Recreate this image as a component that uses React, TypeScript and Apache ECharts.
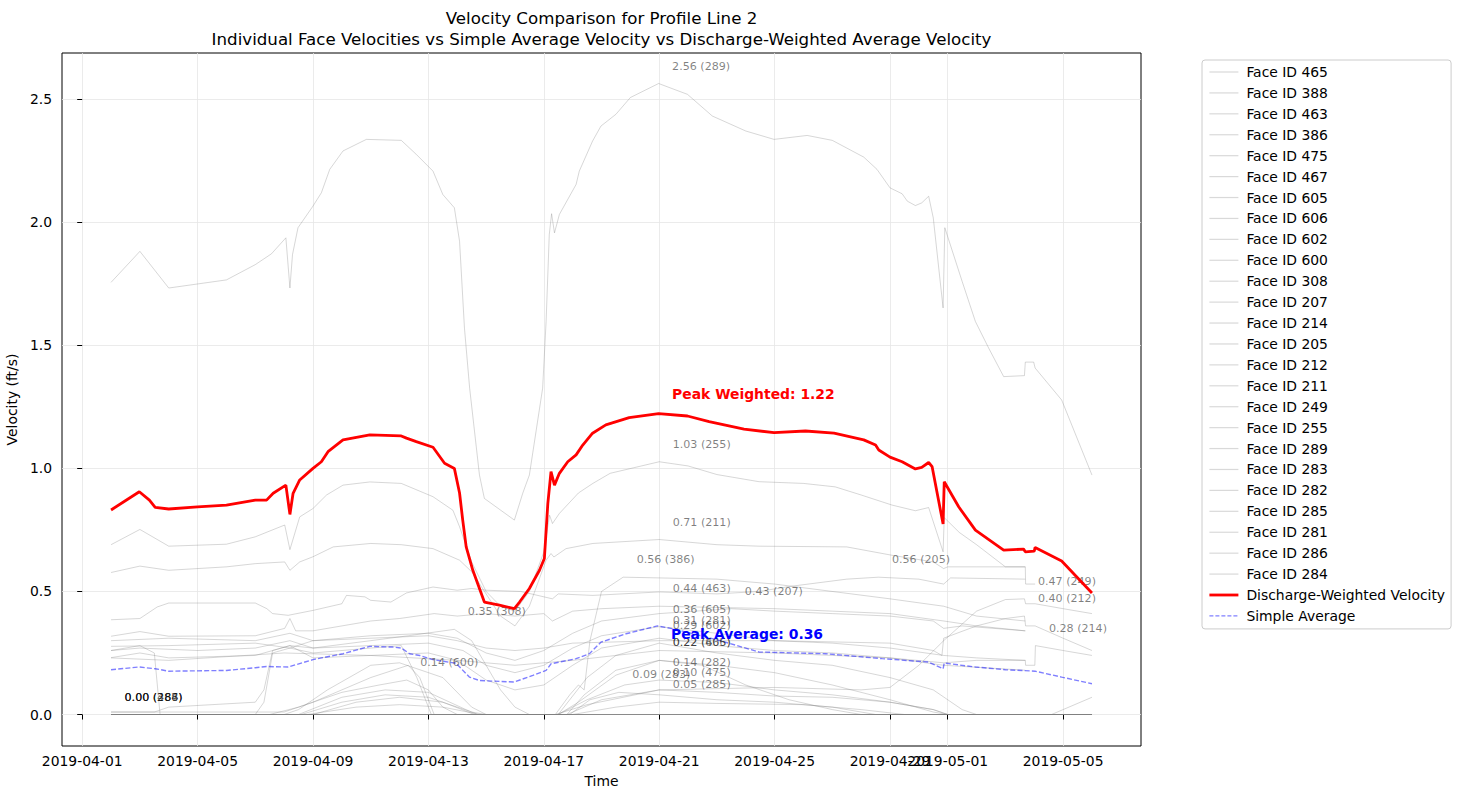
import React, { useEffect, useRef } from 'react';
import * as echarts from 'echarts';

// x values are days since 2019-04-01 00:00
const BASE_DATE = Date.UTC(2019, 3, 1);
const xTickDays = [0, 4, 8, 12, 16, 20, 24, 28, 30, 34];
const yTicks = [0, 0.5, 1.0, 1.5, 2.0, 2.5];

const faceIds = ['465', '388', '463', '386', '475', '467', '605', '606', '602', '600', '308', '207', '214', '205', '212', '211', '249', '255', '289', '283', '282', '285', '281', '286', '284'];

const face465 = [[1, 0.01], [7, 0.01], [8, 0.05], [10, 0.15], [11.3, 0.2], [11.7, 0.15], [12.2, 0], [16.8, 0], [17.4, 0.08], [18.5, 0.18], [20, 0.22], [21.5, 0.2], [23, 0.12], [24.5, 0.06], [26, 0.02], [27, 0], [35, 0]];
const face388 = [[1, 0], [35, 0]];
const face463 = [[1, 0.318], [2, 0.337], [3, 0.318], [6, 0.32], [7.02, 0.35], [7.2, 0.39], [7.4, 0.34], [8, 0.34], [9, 0.36], [10, 0.38], [11, 0.39], [12.2, 0.41], [13, 0.4], [14, 0.41], [15, 0.4], [16, 0.41], [16.3, 0.38], [17, 0.42], [18, 0.43], [20, 0.44], [22, 0.435], [24, 0.43], [26, 0.42], [28, 0.41], [29.86, 0.38], [31, 0.36], [32.69, 0.34]];
const face386 = [[1, 0], [16.4, 0], [16.9, 0.08], [17.2, 0.12], [17.4, 0.1], [17.6, 0.3], [18.0, 0.5], [18.75, 0.558], [20, 0.555], [22, 0.55], [24, 0.53], [26, 0.5], [28, 0.47], [29.86, 0.44], [31, 0.4], [32.69, 0.38]];
const face475 = [[1, 0], [7.6, 0], [9, 0.05], [10.5, 0.08], [12, 0.07], [13.5, 0.01], [14, 0], [16.8, 0], [18, 0.06], [20, 0.1], [22, 0.09], [24, 0.075], [26, 0.07], [28, 0.05], [29.5, 0.02], [30, 0], [35, 0]];
const face467 = [[1, 0], [35, 0]];
const face605 = [[1, 0.26], [2, 0.27], [4, 0.26], [6, 0.27], [7.2, 0.3], [8, 0.27], [10, 0.28], [12, 0.29], [13.2, 0.26], [14, 0.2], [15, 0.17], [16, 0.2], [17, 0.27], [18, 0.32], [20, 0.357], [22, 0.33], [24, 0.3], [26, 0.29], [28, 0.27], [29.86, 0.24], [31, 0.23], [32.69, 0.22]];
const face606 = [[1, 0], [7, 0], [7.5, 0.02], [8.5, 0.1], [10, 0.2], [11, 0.21], [12.5, 0.15], [13.5, 0.03], [14, 0], [16.5, 0], [17.2, 0.05], [18.5, 0.16], [20, 0.22], [22, 0.2], [24, 0.17], [26, 0.12], [28, 0.06], [29.5, 0.01], [30, 0], [35, 0]];
const face602 = [[1, 0.26], [2, 0.28], [2.5, 0.25], [2.7, 0], [6, 0], [6.3, 0.05], [6.6, 0.25], [7.2, 0.27], [8, 0.25], [10, 0.27], [11.06, 0.28], [11.6, 0.15], [12.1, 0], [16.5, 0], [17.5, 0.15], [18.5, 0.24], [20, 0.29], [22, 0.25], [24, 0.22], [26, 0.2], [28, 0.15], [29.5, 0.1], [30.5, 0.02], [31, 0], [35, 0]];
const face600 = [[1, 0], [6.5, 0], [7.5, 0.03], [9, 0.09], [10.3, 0.12], [11.25, 0.14], [12, 0.1], [12.5, 0.03], [13, 0], [33.6, 0], [35, 0.07]];
const face308 = [[1, 0.01], [2.5, 0.01], [3, 0.03], [6, 0.05], [6.3, 0.1], [6.6, 0.26], [7.2, 0.28], [8, 0.27], [10, 0.3], [11.3, 0.32], [12.9, 0.346], [13.5, 0.3], [14, 0.2], [14.5, 0.1], [15, 0.03], [15.5, 0], [35, 0]];
const face207 = [[1, 0.277], [3, 0.28], [6, 0.29], [7.2, 0.27], [8, 0.3], [10, 0.32], [12, 0.33], [13, 0.31], [14, 0.25], [15, 0.22], [16, 0.26], [17, 0.33], [18, 0.38], [20, 0.41], [22.5, 0.43], [24, 0.42], [26, 0.41], [28, 0.4], [29.5, 0.38], [29.86, 0.35], [30.5, 0.36], [32.69, 0.34]];
const face214 = [[1, 0.23], [3, 0.22], [7, 0.25], [10, 0.24], [13, 0.22], [15, 0.2], [17, 0.22], [20, 0.26], [24, 0.25], [28, 0.23], [29.86, 0.21], [31, 0.22], [32.69, 0.22], [32.7, 0.2], [33.02, 0.2], [33.04, 0.28], [34, 0.26], [35, 0.24]];
const face205 = [[1, 0.385], [2, 0.39], [2.6, 0.437], [3, 0.453], [6, 0.453], [6.4, 0.43], [6.6, 0.41], [7.14, 0.403], [8, 0.423], [9, 0.45], [9.16, 0.484], [9.8, 0.478], [10, 0.464], [10.7, 0.457], [11.24, 0.494], [12.16, 0.518], [13, 0.505], [13.5, 0.512], [14, 0.505], [15.2, 0.5], [16.3, 0.47], [16.5, 0.49], [17.7, 0.484], [20, 0.498], [22, 0.49], [23.46, 0.5], [24.5, 0.52], [26.5, 0.55], [27.6, 0.558], [29, 0.55], [29.86, 0.53], [30.1, 0.555], [32.69, 0.55]];
const face212 = [[1, 0.3], [3, 0.31], [6, 0.3], [7.2, 0.33], [8, 0.3], [10, 0.31], [12, 0.32], [13, 0.3], [14, 0.27], [15, 0.26], [16, 0.27], [17, 0.29], [20, 0.3], [24, 0.3], [28, 0.29], [29.5, 0.26], [29.8, 0.24], [29.86, 0.31], [31, 0.36], [32, 0.39], [32.66, 0.4], [32.7, 0.36], [33.03, 0.36], [34, 0.31], [35, 0.26]];
const face211 = [[1, 0.577], [2, 0.603], [3, 0.586], [5, 0.6], [6, 0.613], [7.02, 0.62], [7.2, 0.586], [7.54, 0.62], [8, 0.641], [8.7, 0.681], [10, 0.695], [11.06, 0.69], [12.16, 0.674], [13.08, 0.627], [13.5, 0.58], [14, 0.49], [14.5, 0.4], [15, 0.36], [15.5, 0.44], [16.08, 0.627], [16.25, 0.654], [16.35, 0.64], [16.77, 0.674], [17.7, 0.695], [20, 0.711], [22, 0.69], [23.46, 0.684], [26.5, 0.681], [28.07, 0.647], [29.5, 0.62], [29.86, 0.593], [30, 0.6], [31, 0.6], [32.69, 0.6]];
const face249 = [[1, 0], [16.4, 0], [17.5, 0.04], [20, 0.1], [24, 0.11], [27, 0.1], [28, 0.11], [29, 0.2], [29.86, 0.3], [31, 0.42], [32, 0.467], [32.66, 0.47], [32.7, 0.45], [33.03, 0.45], [34, 0.43], [35, 0.41]];
const face255 = [[1, 0.69], [2, 0.752], [3, 0.684], [5, 0.692], [6, 0.722], [7.02, 0.77], [7.2, 0.67], [7.54, 0.803], [8, 0.837], [8.47, 0.892], [9.04, 0.932], [9.97, 0.945], [11.06, 0.939], [12.16, 0.885], [12.85, 0.83], [13.08, 0.763], [13.5, 0.62], [14, 0.5], [14.5, 0.44], [15, 0.42], [15.5, 0.5], [16.0, 0.66], [16.2, 0.81], [16.3, 0.776], [16.54, 0.817], [17.2, 0.9], [17.7, 0.939], [18.3, 0.98], [20, 1.027], [21, 1.01], [22, 0.975], [23.46, 0.946], [25, 0.939], [26.1, 0.925], [27, 0.892], [28.07, 0.851], [28.88, 0.828], [29.34, 0.841], [29.84, 0.661], [29.88, 0.8], [30.4, 0.74], [31, 0.69], [32, 0.6], [32.69, 0.6], [32.7, 0.53], [33.03, 0.53]];
const face289 = [[1, 1.756], [2, 1.882], [3, 1.733], [5, 1.766], [6, 1.828], [6.56, 1.872], [7.06, 1.937], [7.2, 1.733], [7.29, 1.869], [7.48, 1.978], [8, 2.066], [8.29, 2.12], [8.58, 2.215], [9.04, 2.29], [9.85, 2.337], [11.06, 2.333], [11.58, 2.276], [12.16, 2.208], [12.5, 2.113], [12.9, 2.059], [13.08, 1.923], [13.25, 1.57], [13.43, 1.326], [13.77, 0.973], [13.94, 0.878], [14.98, 0.79], [15.27, 0.899], [15.5, 0.973], [15.96, 1.326], [16.08, 1.597], [16.19, 1.95], [16.27, 2.035], [16.37, 1.957], [16.54, 2.032], [17.12, 2.154], [17.23, 2.208], [17.69, 2.33], [17.98, 2.391], [18.5, 2.439], [19.0, 2.507], [19.98, 2.564], [20.98, 2.52], [21.84, 2.432], [23.0, 2.371], [23.98, 2.337], [25.13, 2.353], [26.0, 2.333], [27.09, 2.265], [27.55, 2.215], [28.0, 2.14], [28.42, 2.116], [28.6, 2.086], [28.88, 2.068], [29.1, 2.079], [29.34, 2.106], [29.5, 2.018], [29.84, 1.652], [29.9, 1.978], [30.5, 1.76], [30.96, 1.597], [31.42, 1.489], [31.94, 1.373], [32.66, 1.377], [32.69, 1.432], [32.98, 1.432], [33.03, 1.408], [33.95, 1.278], [35, 0.973]];
const face283 = [[1, 0], [8, 0], [9.5, 0.05], [11, 0.07], [12.5, 0.05], [13.6, 0], [16.9, 0], [17.6, 0.06], [18.6, 0.09], [20, 0.08], [22, 0.06], [24, 0.05], [26, 0.03], [27.5, 0], [35, 0]];
const face282 = [[1, 0], [7.5, 0], [9, 0.07], [10.5, 0.1], [12, 0.09], [13.3, 0.02], [13.7, 0], [16.5, 0], [17.5, 0.06], [18.8, 0.12], [20, 0.14], [22, 0.13], [24, 0.1], [26, 0.08], [28, 0.05], [29.5, 0.02], [30, 0], [35, 0]];
const face285 = [[1, 0], [7.8, 0], [9.5, 0.03], [11, 0.04], [12.5, 0.03], [13.8, 0], [17, 0], [18.5, 0.03], [20, 0.05], [22, 0.045], [25, 0.04], [27, 0.02], [28.5, 0], [35, 0]];
const face281 = [[1, 0.231], [2, 0.25], [3, 0.23], [6, 0.24], [7.2, 0.28], [8, 0.23], [10, 0.24], [12, 0.25], [13, 0.22], [14, 0.14], [15, 0.1], [16, 0.12], [17, 0.2], [18, 0.27], [20, 0.31], [22, 0.28], [24, 0.26], [26, 0.25], [28, 0.23], [29.86, 0.2], [32.69, 0.18]];
const face286 = [[1, 0], [35, 0]];
const face284 = [[1, 0], [35, 0]];

const weightedVelocity = [[1, 0.831], [1.98, 0.905], [2.33, 0.871], [2.53, 0.842], [3, 0.835], [4, 0.844], [5, 0.851], [6, 0.871], [6.39, 0.871], [6.62, 0.899], [7.06, 0.932], [7.2, 0.813], [7.31, 0.899], [7.54, 0.953], [8, 1.0], [8.29, 1.027], [8.52, 1.068], [9.04, 1.116], [9.97, 1.136], [11.06, 1.132], [11.24, 1.123], [11.58, 1.109], [12.16, 1.086], [12.56, 1.021], [12.9, 1.0], [13.08, 0.9], [13.19, 0.79], [13.31, 0.681], [13.54, 0.586], [13.94, 0.457], [14.46, 0.444], [14.98, 0.43], [15.16, 0.457], [15.5, 0.512], [15.85, 0.586], [16.02, 0.634], [16.14, 0.858], [16.25, 0.987], [16.37, 0.932], [16.54, 0.98], [16.83, 1.027], [17.12, 1.055], [17.35, 1.095], [17.69, 1.143], [18.15, 1.177], [18.96, 1.206], [19.98, 1.223], [20.98, 1.213], [21.73, 1.19], [22.94, 1.16], [23.98, 1.145], [25.07, 1.152], [26.06, 1.143], [27.09, 1.116], [27.5, 1.095], [27.61, 1.075], [28.0, 1.046], [28.42, 1.027], [28.88, 0.998], [29.1, 1.004], [29.34, 1.024], [29.46, 1.007], [29.84, 0.774], [29.88, 0.946], [30.38, 0.844], [30.96, 0.749], [31.94, 0.668], [32.63, 0.672], [32.69, 0.661], [33.0, 0.664], [33.03, 0.679], [33.95, 0.624], [35, 0.494]];
const simpleAverage = [[1, 0.182], [1.98, 0.193], [2.53, 0.186], [3, 0.176], [5, 0.179], [6, 0.19], [6.39, 0.195], [7.14, 0.193], [8, 0.223], [9.04, 0.247], [9.97, 0.277], [10.77, 0.274], [11.06, 0.27], [11.35, 0.247], [11.7, 0.24], [12.16, 0.223], [12.96, 0.208], [13.42, 0.152], [13.77, 0.138], [14.98, 0.132], [15.62, 0.159], [16.08, 0.179], [16.25, 0.206], [17.12, 0.227], [17.58, 0.247], [17.98, 0.294], [18.85, 0.328], [19.94, 0.36], [20.46, 0.349], [22.08, 0.301], [23.46, 0.254], [25.77, 0.247], [27.73, 0.227], [29.34, 0.213], [29.84, 0.186], [29.88, 0.209], [30.96, 0.193], [32.0, 0.182], [33.03, 0.176], [33.95, 0.152], [35, 0.125]];

const faceData: Record<string, number[][]> = {
  '465': face465, '388': face388, '463': face463, '386': face386, '475': face475,
  '467': face467, '605': face605, '606': face606, '602': face602, '600': face600,
  '308': face308, '207': face207, '214': face214, '205': face205, '212': face212,
  '211': face211, '249': face249, '255': face255, '289': face289, '283': face283,
  '282': face282, '285': face285, '281': face281, '286': face286, '284': face284,
};

const FONT = 'DejaVu Sans';

function peakOf(data: number[][]) {
  let bi = 0;
  for (let i = 1; i < data.length; i++) if (data[i][1] > data[bi][1]) bi = i;
  return data[bi];
}

function fmtDay(d: number) {
  const dt = new Date(BASE_DATE + Math.round(d * 86400000));
  return dt.toISOString().slice(0, 10);
}

export default function App() {
  const ref = useRef<HTMLDivElement>(null);
  useEffect(() => {
    if (!ref.current) return;
    const chart = echarts.init(ref.current, undefined, { renderer: 'svg' });

    const graySeries = faceIds.map((id) => {
      const data = faceData[id];
      const pk = peakOf(data);
      return {
        name: 'Face ID ' + id,
        type: 'line',
        data,
        symbol: 'none',
        showSymbol: false,
        z: 2,
        lineStyle: { color: 'rgba(128,128,128,0.45)', width: 0.7 },
        emphasis: { disabled: true },
        markPoint: {
          symbol: 'rect',
          symbolSize: 1,
          silent: true,
          itemStyle: { color: 'rgba(0,0,0,0)' },
          data: [{ coord: [pk[0], pk[1]], value: pk[1] }],
          label: {
            show: true,
            position: [14, -17],
            align: 'left',
            verticalAlign: 'middle',
            formatter: `${pk[1].toFixed(2)} (${id})`,
            color: 'rgba(0,0,0,0.5)',
            fontSize: 11.1,
            fontFamily: FONT,
          },
        },
      };
    });

    const wPk = peakOf(weightedVelocity);
    const aPk = peakOf(simpleAverage);

    const series: any[] = [
      ...graySeries,
      {
        name: 'Discharge-Weighted Velocity',
        type: 'line',
        data: weightedVelocity,
        symbol: 'none',
        showSymbol: false,
        z: 5,
        lineStyle: { color: '#ff0000', width: 2.8 },
        emphasis: { disabled: true },
        markPoint: {
          symbol: 'rect',
          symbolSize: 1,
          silent: true,
          itemStyle: { color: 'rgba(0,0,0,0)' },
          data: [{ coord: [wPk[0], wPk[1]], value: wPk[1] }],
          label: {
            show: true,
            position: [14, -19],
            align: 'left',
            verticalAlign: 'middle',
            formatter: `Peak Weighted: ${wPk[1].toFixed(2)}`,
            color: '#ff0000',
            fontWeight: 'bold',
            fontSize: 13.9,
            fontFamily: FONT,
          },
        },
      },
      {
        name: 'Simple Average',
        type: 'line',
        data: simpleAverage,
        symbol: 'none',
        showSymbol: false,
        z: 4,
        lineStyle: { color: 'rgba(0,0,255,0.5)', width: 1.4, type: [5, 2.2] },
        emphasis: { disabled: true },
        markPoint: {
          symbol: 'rect',
          symbolSize: 1,
          silent: true,
          itemStyle: { color: 'rgba(0,0,0,0)' },
          data: [{ coord: [aPk[0], aPk[1]], value: aPk[1] }],
          label: {
            show: true,
            position: [14, 9],
            align: 'left',
            verticalAlign: 'middle',
            formatter: `Peak Average: ${aPk[1].toFixed(2)}`,
            color: '#0000ff',
            fontWeight: 'bold',
            fontSize: 13.9,
            fontFamily: FONT,
          },
        },
      },
    ];

    const hiddenSymbol = { opacity: 0, color: 'rgba(0,0,0,0)', borderWidth: 0 };
    const legendData = [
      ...faceIds.map((id) => ({
        name: 'Face ID ' + id,
        itemStyle: hiddenSymbol,
        lineStyle: { color: 'rgba(128,128,128,0.3)', width: 1.2 },
      })),
      { name: 'Discharge-Weighted Velocity', itemStyle: hiddenSymbol, lineStyle: { color: '#ff0000', width: 2.8 } },
      { name: 'Simple Average', itemStyle: hiddenSymbol, lineStyle: { color: 'rgba(0,0,255,0.5)', width: 1.4, type: [4, 2] } },
    ];

    chart.setOption({
      animation: false,
      backgroundColor: '#ffffff',
      textStyle: { fontFamily: FONT },
      graphic: [
        {
          type: 'text', x: 601.5, y: 18,
          style: { text: 'Velocity Comparison for Profile Line 2', fontSize: 16.67, fontFamily: FONT, fill: '#000', textAlign: 'center', textVerticalAlign: 'middle' },
        },
        {
          type: 'text', x: 601.5, y: 39,
          style: { text: 'Individual Face Velocities vs Simple Average Velocity vs Discharge-Weighted Average Velocity', fontSize: 16.67, fontFamily: FONT, fill: '#000', textAlign: 'center', textVerticalAlign: 'middle' },
        },
      ],
      legend: {
        orient: 'vertical',
        left: 1202,
        top: 60,
        padding: [5, 6, 6, 6],
        itemWidth: 29,
        itemHeight: 14,
        itemGap: 6.92,
        borderColor: '#cccccc',
        borderWidth: 1,
        borderRadius: 3,
        backgroundColor: '#ffffff',
        selectedMode: false,
        itemStyle: hiddenSymbol,
        textStyle: { color: '#000', fontSize: 13.9, fontFamily: FONT, padding: [0, 0, 0, 3], lineHeight: 14 },
        data: legendData,
      },
      grid: {
        left: 62,
        top: 53,
        width: 1079,
        height: 693,
        show: true,
        borderColor: '#000',
        borderWidth: 1,
        backgroundColor: '#ffffff',
        containLabel: false,
        outerBoundsMode: 'none',
      },
      xAxis: {
        type: 'value',
        min: -0.7,
        max: 36.7,
        name: 'Time',
        nameLocation: 'middle',
        nameGap: 28,
        nameTextStyle: { fontSize: 13.9, fontFamily: FONT, color: '#000' },
        axisLine: { show: false },
        axisTick: { show: true, inside: false, length: 5, customValues: xTickDays, lineStyle: { color: '#000', width: 1 } },
        axisLabel: {
          customValues: xTickDays,
          formatter: (v: number) => fmtDay(v),
          fontSize: 13.9,
          fontFamily: FONT,
          color: '#000',
          margin: 8,
          hideOverlap: false,
        },
        splitLine: { show: true, lineStyle: { color: '#e6e6e6', width: 0.8 } },
      },
      yAxis: {
        type: 'value',
        min: -0.128,
        max: 2.688,
        name: 'Velocity (ft/s)',
        nameLocation: 'middle',
        nameGap: 38,
        nameTextStyle: { fontSize: 13.9, fontFamily: FONT, color: '#000' },
        axisLine: { show: false },
        axisTick: { show: true, inside: false, length: 5, customValues: yTicks, lineStyle: { color: '#000', width: 1 } },
        axisLabel: {
          customValues: yTicks,
          formatter: (v: number) => v.toFixed(1),
          fontSize: 13.9,
          fontFamily: FONT,
          color: '#000',
          margin: 10,
        },
        splitLine: { show: true, lineStyle: { color: '#e6e6e6', width: 0.8 } },
      },
      series,
    });

    return () => {
      chart.dispose();
    };
  }, []);

  return (
    <div
      ref={ref}
      style={{ position: 'absolute', left: 0, top: 0, width: 1460, height: 799 }}
    />
  );
}
